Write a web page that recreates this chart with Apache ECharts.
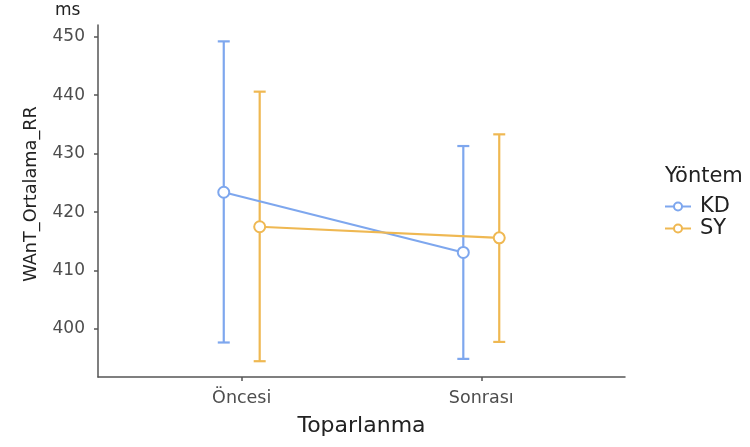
<!DOCTYPE html>
<html>
<head>
<meta charset="utf-8">
<script src="https://cdn.jsdelivr.net/npm/echarts@6/dist/echarts.min.js"></script>
<style>
  html, body { margin: 0; padding: 0; background: #ffffff; }
  #chart { width: 750px; height: 447px; }
</style>
</head>
<body>
<div id="chart"></div>
<script>
// Recovery phase (x categories)
const categories = ['Öncesi', 'Sonrası'];
// Method groups
const groups = ['KD', 'SY'];
// Mean WAnT average RR (ms) per method, per category
const meanKD = [423.4, 413.1];
const meanSY = [417.5, 415.6];
// Error bar limits
const lowerKD = [397.7, 394.9];
const upperKD = [449.2, 431.3];
const lowerSY = [394.5, 397.8];
const upperSY = [440.6, 433.3];
// Y tick labels
const yTicks = [400, 410, 420, 430, 440, 450];

const colors = { KD: '#7ea7ee', SY: '#efb852' };
const dodge = 0.075;
const FONT = 'DejaVu Sans';

function points(means, offset) {
  return means.map((m, i) => [i + 1 + offset, m]);
}
function bars(lows, highs, offset) {
  return lows.map((lo, i) => [i + 1 + offset, lo, highs[i]]);
}

function errorBarSeries(name, data, color) {
  return {
    type: 'custom',
    name: name + ' error',
    data: data,
    z: 1,
    encode: { x: 0, y: [1, 2] },
    renderItem: function (params, api) {
      const x = api.value(0);
      const lo = api.coord([x, api.value(1)]);
      const hi = api.coord([x, api.value(2)]);
      const half = 6;
      const style = { stroke: color, lineWidth: 2.2, fill: null };
      return {
        type: 'group',
        children: [
          { type: 'line', shape: { x1: lo[0], y1: lo[1], x2: hi[0], y2: hi[1] }, style: style },
          { type: 'line', shape: { x1: hi[0] - half, y1: hi[1], x2: hi[0] + half, y2: hi[1] }, style: style },
          { type: 'line', shape: { x1: lo[0] - half, y1: lo[1], x2: lo[0] + half, y2: lo[1] }, style: style }
        ]
      };
    }
  };
}

function meanSeries(name, data, color) {
  return {
    type: 'line',
    name: name,
    data: data,
    z: 3,
    symbol: 'circle',
    symbolSize: 11,
    showAllSymbol: true,
    lineStyle: { color: color, width: 2.2 },
    itemStyle: { color: '#ffffff', borderColor: color, borderWidth: 2 },
    emphasis: { disabled: true },
    animation: false
  };
}

const chart = echarts.init(document.getElementById('chart'), null, { renderer: 'canvas' });
chart.setOption({
  animation: false,
  backgroundColor: '#ffffff',
  grid: { left: 98, right: 125, top: 25, bottom: 70, containLabel: false },
  xAxis: {
    type: 'value',
    min: 0.4,
    max: 2.6,
    name: 'Toparlanma',
    nameLocation: 'middle',
    nameGap: 38,
    nameTextStyle: { fontFamily: FONT, fontSize: 22, color: '#222222' },
    axisLine: { show: true, lineStyle: { color: '#555555', width: 1.5 } },
    axisTick: { show: true, customValues: [1, 2], length: 4, lineStyle: { color: '#555555', width: 1.5 } },
    axisLabel: {
      customValues: [1, 2],
      formatter: v => categories[Math.round(v) - 1] || '',
      fontFamily: FONT, fontSize: 17.5, color: '#4d4d4d', margin: 12
    },
    splitLine: { show: false }
  },
  yAxis: {
    type: 'value',
    min: 391.8,
    max: 452,
    name: 'WAnT_Ortalama_RR',
    nameLocation: 'middle',
    nameRotate: 90,
    nameGap: 58,
    nameTextStyle: { fontFamily: FONT, fontSize: 17.7, color: '#222222', padding: [0, 0, 0, 14] },
    axisLine: { show: true, lineStyle: { color: '#555555', width: 1.5 } },
    axisTick: { show: true, customValues: yTicks, length: 4, lineStyle: { color: '#555555', width: 1.5 } },
    axisLabel: { customValues: yTicks, fontFamily: FONT, fontSize: 17, color: '#4d4d4d', margin: 13 },
    splitLine: { show: false }
  },
  legend: {
    data: groups,
    orient: 'vertical',
    left: 659,
    top: 191,
    itemWidth: 26,
    itemHeight: 10,
    itemGap: 1,
    textStyle: { fontFamily: FONT, fontSize: 21, color: '#222222', padding: [0, 0, 0, 4] },
    selectedMode: false
  },
  graphic: [
    { type: 'text', left: 55, top: 2, style: { text: 'ms', font: '17px "DejaVu Sans"', fill: '#222222' } },
    { type: 'text', left: 665, top: 166, style: { text: 'Yöntem', font: '21px "DejaVu Sans"', fill: '#222222' } }
  ],
  series: [
    errorBarSeries('KD', bars(lowerKD, upperKD, -dodge), colors.KD),
    errorBarSeries('SY', bars(lowerSY, upperSY, dodge), colors.SY),
    meanSeries('KD', points(meanKD, -dodge), colors.KD),
    meanSeries('SY', points(meanSY, dodge), colors.SY)
  ]
});
</script>
</body>
</html>
